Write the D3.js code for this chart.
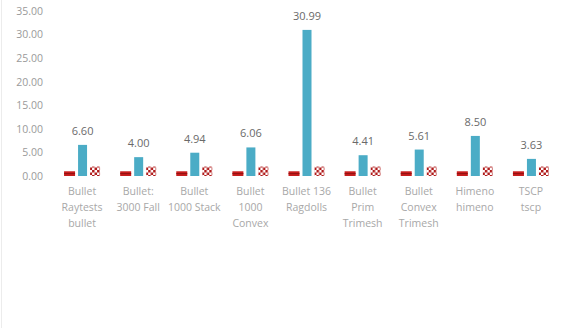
<!DOCTYPE html>
<html>
<head>
<meta charset="utf-8">
<script src="https://cdn.jsdelivr.net/npm/d3@7"></script>
<style>
  body { margin: 0; background: #fff; }
  svg { display: block; font-family: "Open Sans", "Noto Sans", sans-serif; }
</style>
</head>
<body>
<svg id="chart" width="578" height="328"></svg>
<script>
// category labels, already split into the lines shown under each group
const categories = [
  ['Bullet', 'Raytests', 'bullet'],
  ['Bullet:', '3000 Fall'],
  ['Bullet', '1000 Stack'],
  ['Bullet', '1000', 'Convex'],
  ['Bullet 136', 'Ragdolls'],
  ['Bullet', 'Prim', 'Trimesh'],
  ['Bullet', 'Convex', 'Trimesh'],
  ['Himeno', 'himeno'],
  ['TSCP', 'tscp']
];
const baseValues = [1.0, 1.0, 1.0, 1.0, 1.0, 1.0, 1.0, 1.0, 1.0];
const mainValues = [6.60, 4.00, 4.94, 6.06, 30.99, 4.41, 5.61, 8.50, 3.63];
const checkValues = [2.0, 2.0, 2.0, 2.0, 2.0, 2.0, 2.0, 2.0, 2.0];
const yTicks = [0, 5, 10, 15, 20, 25, 30, 35];

const svg = d3.select('#chart');
const width = 578, height = 328;

const x = d3.scaleBand()
  .domain(d3.range(categories.length))
  .range([54, 559]);

const y = d3.scaleLinear()
  .domain([0, 35])
  .range([176, 11]);

// faint chart frame on the left edge
svg.append('line')
  .attr('x1', 1.5).attr('x2', 1.5)
  .attr('y1', 0).attr('y2', height)
  .attr('stroke', '#ececec');

// checker pattern for the third series
const defs = svg.append('defs');
const pat = defs.append('pattern')
  .attr('id', 'checker')
  .attr('width', 5).attr('height', 5)
  .attr('patternUnits', 'userSpaceOnUse');
pat.append('rect').attr('width', 5).attr('height', 5).attr('fill', '#fff');
pat.append('rect').attr('width', 2.5).attr('height', 2.5).attr('fill', '#b01a1a');
pat.append('rect').attr('x', 2.5).attr('y', 2.5).attr('width', 2.5).attr('height', 2.5).attr('fill', '#b01a1a');

// y axis labels (no line, no ticks)
const yAxis = d3.axisLeft(y)
  .tickValues(yTicks)
  .tickSize(0)
  .tickPadding(0)
  .tickFormat(d3.format('.2f'));

svg.append('g')
  .attr('transform', 'translate(43,0)')
  .call(yAxis)
  .call(g => g.select('.domain').remove())
  .call(g => g.selectAll('text')
    .attr('fill', '#9a9a9a')
    .attr('font-size', 10.5)
    .attr('font-family', '"Open Sans", "Noto Sans", sans-serif'));

const groups = svg.append('g')
  .selectAll('g')
  .data(categories)
  .join('g')
  .attr('transform', (d, i) => `translate(${x(i) + x.bandwidth() / 2},0)`);

// red baseline bar
groups.append('rect')
  .attr('x', -18)
  .attr('width', 11)
  .attr('y', (d, i) => y(baseValues[i]))
  .attr('height', (d, i) => y(0) - y(baseValues[i]))
  .attr('fill', '#c81e1e');
groups.append('line')
  .attr('x1', -18).attr('x2', -7)
  .attr('y1', (d, i) => (y(baseValues[i]) + y(0)) / 2)
  .attr('y2', (d, i) => (y(baseValues[i]) + y(0)) / 2)
  .attr('stroke', '#8e1010')
  .attr('stroke-width', 1);

// main blue bar
groups.append('rect')
  .attr('x', -4)
  .attr('width', 9)
  .attr('y', (d, i) => y(mainValues[i]))
  .attr('height', (d, i) => y(0) - y(mainValues[i]))
  .attr('fill', '#4bacc6');

// checkered bar
groups.append('rect')
  .attr('x', 8)
  .attr('width', 10)
  .attr('y', (d, i) => y(checkValues[i]))
  .attr('height', (d, i) => y(0) - y(checkValues[i]))
  .attr('fill', 'url(#checker)');

// value labels over the blue bars
groups.append('text')
  .attr('x', 0.5)
  .attr('y', (d, i) => y(mainValues[i]) - 10)
  .attr('text-anchor', 'middle')
  .attr('font-size', 11)
  .attr('fill', '#6a6a6a')
  .text((d, i) => d3.format('.2f')(mainValues[i]));

// wrapped category labels
groups.append('text')
  .attr('text-anchor', 'middle')
  .attr('font-size', 10.5)
  .attr('fill', '#a8a8a8')
  .selectAll('tspan')
  .data(d => d)
  .join('tspan')
  .attr('x', 0)
  .attr('y', (d, j) => 195 + j * 16)
  .text(d => d);
</script>
</body>
</html>
